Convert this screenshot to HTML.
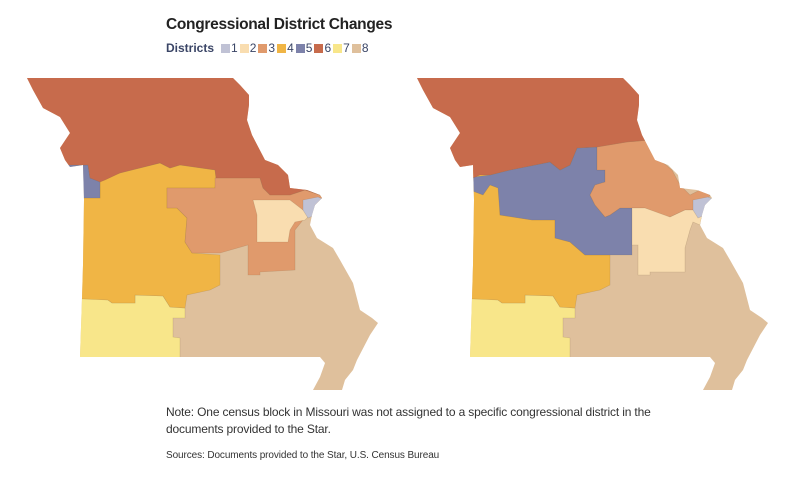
<!DOCTYPE html>
<html><head><meta charset="utf-8"><style>
body{margin:0;width:800px;height:480px;background:#fff;font-family:"Liberation Sans",sans-serif;overflow:hidden;position:relative}
.t{position:absolute;left:166px;top:16px;font-size:15.5px;font-weight:bold;color:#222;letter-spacing:-0.3px}
.lg{position:absolute;left:166px;top:41px;font-size:12px;color:#3a4566;display:flex;align-items:center}
.lg b{margin-right:5px}
.lg span{display:inline-block;width:9px;height:9px;margin:0 1px 0 2px}
.n{position:absolute;left:166px;top:404px;font-size:12px;color:#333;line-height:17px;width:490px;letter-spacing:-0.15px}
.s{position:absolute;left:166px;top:450px;font-size:10px;color:#333;letter-spacing:-0.1px}
svg{position:absolute;left:0;top:0}
</style></head><body>
<div class="t">Congressional District Changes</div>
<div class="lg"><b>Districts</b><span style="background:#c0c2d5"></span>1<span style="background:#f9ddb0"></span>2<span style="background:#e09a6c"></span>3<span style="background:#f0b545"></span>4<span style="background:#7d82aa"></span>5<span style="background:#c76b4c"></span>6<span style="background:#f8e68a"></span>7<span style="background:#dfc09c"></span>8</div>
<svg width="800" height="480">
<defs><clipPath id="mo"><polygon points="7,8 213,8 220,15 229,25 229,35 227,50 232,65 245,90 258,95 268,105 270,118 287,120 300,125 302,128 295,135 292,145 290,155 297,168 313,178 320,190 333,213 340,240 352,248 358,253 350,265 337,290 333,300 325,310 322,320 293,320 300,307 305,293 300,287 270,287 60,287 62,228 63,195 64,130 63,95 50,97 45,90 40,78 50,63 45,55 40,47 23,38 13,20 7,8"/></clipPath></defs>
<g transform="translate(20,70)" clip-path="url(#mo)" stroke="rgba(120,90,60,0.25)" stroke-width="0.6">
<rect x="0" y="0" width="370" height="330" fill="#dfc09c"/>
<polygon fill="#f8e68a" points="60,228 88,230 92,233 115,233 115,225 143,226 150,237 165,238 165,248 153,248 153,267 160,268 160,300 40,300"/>
<polygon fill="#f0b545" points="40,128 80,128 80,108 100,103 140,93 150,98 160,95 195,100 196,108 195,118 147,118 147,138 157,138 167,148 165,172 172,183 200,185 200,215 190,220 167,225 165,238 150,237 143,226 115,225 115,233 92,233 88,230 40,228"/>
<polygon fill="#7d82aa" points="40,95 68,95 70,108 80,108 80,128 40,128"/>
<polygon fill="#e09a6c" points="147,118 195,118 195,108 240,108 243,118 250,125 270,125 285,120 300,125 302,128 295,135 290,145 283,150 275,160 275,200 240,202 240,205 228,205 228,175 200,183 172,183 165,172 167,148 157,138 147,138"/>
<polygon fill="#f9ddb0" points="233,130 270,130 283,140 290,145 285,150 275,152 270,160 268,172 237,172 237,145"/>
<polygon fill="#c0c2d5" points="283,130 298,127 305,130 295,145 288,148 283,140"/>
<polygon fill="#c76b4c" points="0,0 320,0 320,118 300,125 285,120 270,125 250,125 243,118 240,108 196,108 195,100 160,95 150,98 140,93 120,98 100,103 85,110 80,112 70,108 68,95 0,95"/>
</g>
<g transform="translate(410,70)" clip-path="url(#mo)" stroke="rgba(120,90,60,0.25)" stroke-width="0.6">
<rect x="0" y="0" width="370" height="330" fill="#dfc09c"/>
<polygon fill="#f8e68a" points="60,228 88,230 92,233 115,233 115,225 143,226 150,237 165,238 165,248 153,248 153,267 160,268 160,300 40,300"/>
<polygon fill="#f0b545" points="40,100 90,100 90,145 122,150 145,150 145,168 160,172 175,185 200,185 200,215 190,220 167,225 165,238 150,237 143,226 115,225 115,233 92,233 88,230 40,228"/>
<polygon fill="#7d82aa" points="40,110 65,122 73,125 80,115 88,118 90,145 122,150 145,150 145,168 160,172 175,185 222,185 222,138 210,138 200,145 195,147 185,135 180,125 185,115 195,112 195,100 187,100 187,77 167,78 160,95 150,100 140,92 100,100 80,105"/>
<polygon fill="#e09a6c" points="187,77 217,72 240,70 245,80 250,90 262,100 270,115 280,125 290,120 300,125 295,135 285,140 275,140 260,147 250,145 235,138 210,138 200,145 195,147 185,135 180,125 185,115 195,112 195,100 187,100"/>
<polygon fill="#f9ddb0" points="222,138 235,138 260,147 275,140 285,140 292,145 290,155 283,152 280,160 275,178 275,202 240,202 240,205 228,205 228,175 222,175"/>
<polygon fill="#c0c2d5" points="283,130 298,127 305,130 295,145 288,148 283,140"/>
<polygon fill="#c76b4c" points="0,0 320,0 320,60 240,70 217,72 187,77 167,78 160,95 150,100 140,92 125,95 100,100 80,105 70,105 63,108 0,108"/>
</g>
</svg>
<div class="n">Note: One census block in Missouri was not assigned to a specific congressional district in the documents provided to the Star.</div>
<div class="s">Sources: Documents provided to the Star, U.S. Census Bureau</div>
</body></html>
